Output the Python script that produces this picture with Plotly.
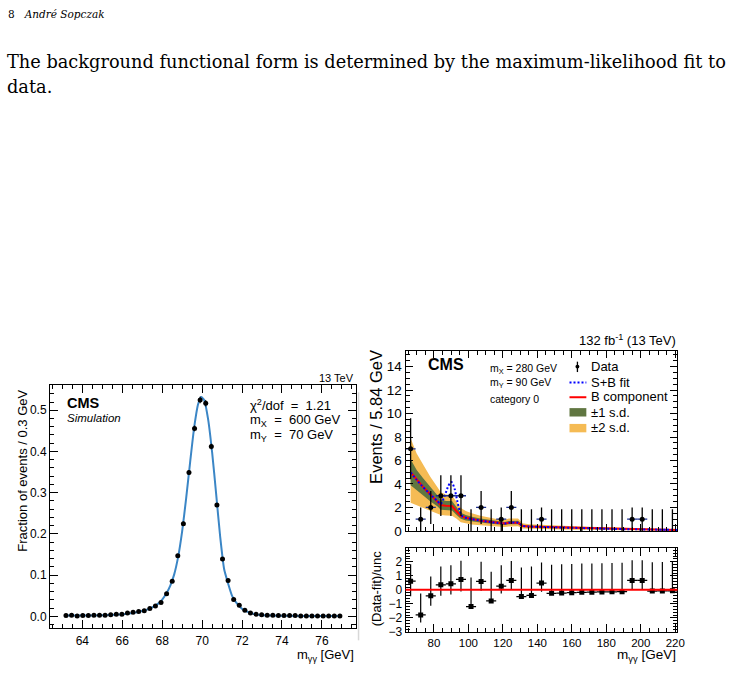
import plotly.graph_objects as go

W, H = 732, 676
def fx(p): return p / W
def fy(p): return 1 - p / H

# ---------------- Left panel: simulated signal shape ----------------
sim_x = [63.18, 63.46, 63.74, 64.02, 64.30, 64.58, 64.86, 65.14, 65.42, 65.70,
         65.98, 66.26, 66.54, 66.82, 67.10, 67.38, 67.66, 67.94, 68.22, 68.50,
         68.78, 69.06, 69.34, 69.62, 69.90, 70.18, 70.46, 70.74, 71.02, 71.30,
         71.58, 71.86, 72.14, 72.42, 72.70, 72.98, 73.26, 73.54, 73.82, 74.10,
         74.38, 74.66, 74.94, 75.22, 75.50, 75.78, 76.06, 76.34, 76.62, 76.90]
sim_y = [0.002, 0.003, 0.001, 0.002, 0.002, 0.003, 0.003, 0.003, 0.004, 0.005,
         0.005, 0.008, 0.010, 0.012, 0.014, 0.019, 0.025, 0.034, 0.055, 0.085,
         0.147, 0.225, 0.349, 0.456, 0.525, 0.517, 0.412, 0.270, 0.139, 0.087,
         0.041, 0.027, 0.015, 0.008, 0.005, 0.004, 0.003, 0.003, 0.002, 0.002,
         0.002, 0.002, 0.001, 0.001, 0.001, 0.001, 0.001, 0.001, 0.001, 0.001]
sim_err = [0.001, 0.001, 0.001, 0.001, 0.001, 0.001, 0.001, 0.001, 0.001, 0.001,
           0.001, 0.001, 0.001, 0.001, 0.001, 0.002, 0.002, 0.002, 0.003, 0.003,
           0.004, 0.005, 0.006, 0.007, 0.008, 0.008, 0.007, 0.005, 0.004, 0.003,
           0.002, 0.002, 0.001, 0.001, 0.001, 0.001, 0.001, 0.001, 0.001, 0.001,
           0.001, 0.001, 0.001, 0.001, 0.001, 0.001, 0.001, 0.001, 0.001, 0.001]
fit_x = [63.1, 64.0, 65.0, 66.0, 66.5, 67.0, 67.5, 67.8, 68.0, 68.2, 68.4, 68.6,
         68.8, 69.0, 69.2, 69.4, 69.6, 69.8, 69.95, 70.1, 70.3, 70.5, 70.7, 70.9,
         71.1, 71.3, 71.5, 71.7, 71.9, 72.1, 72.4, 72.8, 73.5, 75.0, 77.0]
fit_y = [0.002, 0.002, 0.003, 0.005, 0.008, 0.013, 0.022, 0.031, 0.041, 0.055,
         0.074, 0.102, 0.145, 0.207, 0.287, 0.375, 0.458, 0.515, 0.532, 0.525,
         0.478, 0.398, 0.298, 0.195, 0.115, 0.080, 0.050, 0.034, 0.023, 0.015,
         0.009, 0.004, 0.002, 0.001, 0.001]

# ---------------- Right panel: data fit ----------------
bin_x = [66.50, 72.34, 78.18, 84.02, 89.86, 95.70, 101.54, 107.38, 113.22, 119.06,
         124.90, 130.74, 136.58, 142.42, 148.26, 154.10, 159.94, 165.78, 171.62,
         177.46, 183.30, 189.14, 194.98, 200.82, 206.66, 212.50, 218.34]
counts = [7, 1, 2, 3, 3, 3, 0, 2, 0, 1, 2, 0, 0, 1, 0, 0, 0, 0, 0, 0, 0, 0, 1, 1, 0, 0, 0]
cnt_up = [2.6, 1.0, 1.4, 1.75, 1.75, 1.75, 1.84, 1.4, 1.84, 1.0, 1.4, 1.84, 1.84, 1.0,
          1.84, 1.84, 1.84, 1.84, 1.84, 1.84, 1.84, 1.84, 1.0, 1.0, 1.84, 1.84, 1.84]
cnt_dn = [2.6, 1.0, 1.4, 1.73, 1.73, 1.73, 0, 1.4, 0, 1.0, 1.4, 0, 0, 1.0,
          0, 0, 0, 0, 0, 0, 0, 0, 1.0, 1.0, 0, 0, 0]
half_bin = 2.92

bkg_x = [66.5, 70, 74, 78, 82, 84, 87, 90.5, 93, 95.6, 98.5, 102, 107, 112, 117, 121,
         123.5, 128.8, 131.5, 135, 145, 155, 165, 175, 185, 195, 205, 215, 221.26]
bkg_y = [5.0, 4.35, 3.7, 3.1, 2.55, 2.2, 2.15, 2.12, 1.7, 1.28, 1.12, 1.0, 0.88, 0.78,
         0.68, 0.63, 0.7, 0.7, 0.42, 0.38, 0.33, 0.29, 0.25, 0.21, 0.17, 0.14, 0.12, 0.1, 0.09]
sb_x = [66.5, 70, 74, 78, 82, 84, 86, 88, 89.5, 90.5, 92, 93.5, 95, 96.5, 98.5, 102, 107,
        112, 117, 121, 123.5, 128.8, 131.5, 135, 145, 155, 165, 175, 185, 195, 205, 215, 221.26]
sb_y = [5.0, 4.35, 3.7, 3.1, 2.55, 2.3, 2.9, 3.7, 4.15, 4.15, 3.6, 2.6, 1.7, 1.25, 1.12,
        1.0, 0.88, 0.78, 0.68, 0.63, 0.7, 0.7, 0.42, 0.38, 0.33, 0.29, 0.25, 0.21, 0.17,
        0.14, 0.12, 0.1, 0.09]
band_hi2 = [7.9, 6.6, 5.6, 4.6, 3.75, 3.3, 3.1, 3.05, 2.5, 1.95, 1.7, 1.5, 1.3, 1.15, 1.0,
            0.95, 1.05, 1.05, 0.65, 0.58, 0.5, 0.44, 0.38, 0.33, 0.27, 0.23, 0.2, 0.17, 0.16]
band_hi1 = [6.1, 5.2, 4.45, 3.7, 3.05, 2.7, 2.55, 2.55, 2.05, 1.55, 1.36, 1.2, 1.05, 0.93,
            0.82, 0.77, 0.85, 0.86, 0.52, 0.47, 0.4, 0.35, 0.3, 0.26, 0.21, 0.18, 0.15, 0.13, 0.12]
band_lo1 = [3.9, 3.5, 3.0, 2.5, 2.1, 1.8, 1.76, 1.74, 1.38, 1.03, 0.9, 0.8, 0.71, 0.63,
            0.54, 0.5, 0.56, 0.57, 0.33, 0.3, 0.26, 0.23, 0.2, 0.16, 0.13, 0.1, 0.09, 0.07, 0.06]
band_lo2 = [2.4, 2.2, 1.95, 1.75, 1.5, 1.35, 1.32, 1.3, 1.05, 0.75, 0.65, 0.55, 0.48, 0.42,
            0.36, 0.33, 0.38, 0.4, 0.2, 0.18, 0.15, 0.13, 0.11, 0.09, 0.07, 0.05, 0.04, 0.03, 0.02]

res_y = [0.62, -1.79, -0.43, 0.36, 0.43, 0.74, -1.19, 0.60, -0.79, 0.26, 0.67, -0.48, -0.40,
         0.48, -0.25, -0.23, -0.20, -0.18, -0.17, -0.15, -0.14, -0.13, 0.67, 0.67, -0.09, -0.08, -0.07]
res_top = [1.83, -0.26, 0.95, 1.67, 1.76, 2.07, 0.88, 2.0, 1.29, 1.76, 2.05, 1.6, 1.67,
           1.95, 1.79, 1.83, 1.85, 1.87, 1.88, 1.9, 1.92, 1.93, 2.1, 2.1, 1.97, 1.98, 1.99]
res_bot = [-0.45, -2.33, -1.14, -0.43, -0.33, -0.12, -1.19, -0.07, -0.79, -0.26, 0.0, -0.48,
           -0.40, -0.14, -0.25, -0.23, -0.20, -0.18, -0.17, -0.15, -0.14, -0.13, 0.0, 0.0,
           -0.09, -0.08, -0.07]

SANS = "Liberation Sans, Arial, Helvetica, sans-serif"
SERIF = "DejaVu Serif, Liberation Serif, serif"
GREEN = "#607641"
ORANGE = "#F5BB54"

fig = go.Figure()

# left
fig.add_trace(go.Scatter(x=fit_x, y=fit_y, mode="lines", line=dict(color="#3b86c6", width=2, shape="spline", smoothing=0.6),
                         xaxis="x", yaxis="y", hoverinfo="skip"))
fig.add_trace(go.Scatter(x=sim_x, y=sim_y, mode="markers", marker=dict(color="black", size=5),
                         error_y=dict(type="data", array=sim_err, color="black", thickness=1, width=0),
                         xaxis="x", yaxis="y"))

# right top bands
fig.add_trace(go.Scatter(x=bkg_x, y=band_lo2, mode="lines", line=dict(width=0), xaxis="x2", yaxis="y2", hoverinfo="skip"))
fig.add_trace(go.Scatter(x=bkg_x, y=band_hi2, mode="lines", line=dict(width=0), fill="tonexty", fillcolor=ORANGE,
                         xaxis="x2", yaxis="y2", hoverinfo="skip"))
fig.add_trace(go.Scatter(x=bkg_x, y=band_lo1, mode="lines", line=dict(width=0), xaxis="x2", yaxis="y2", hoverinfo="skip"))
fig.add_trace(go.Scatter(x=bkg_x, y=band_hi1, mode="lines", line=dict(width=0), fill="tonexty", fillcolor=GREEN,
                         xaxis="x2", yaxis="y2", hoverinfo="skip"))
fig.add_trace(go.Scatter(x=bkg_x, y=bkg_y, mode="lines", line=dict(color="#ff0000", width=2), xaxis="x2", yaxis="y2"))
fig.add_trace(go.Scatter(x=sb_x, y=sb_y, mode="lines",
                         line=dict(color="#0000ff", width=2, dash="2px,2px", shape="spline", smoothing=0.5),
                         xaxis="x2", yaxis="y2"))

nz = [i for i, c in enumerate(counts) if c > 0]
zz = [i for i, c in enumerate(counts) if c == 0]
fig.add_trace(go.Scatter(x=[bin_x[i] for i in zz], y=[0 for i in zz], mode="markers",
                         marker=dict(color="rgba(0,0,0,0)", size=1),
                         error_y=dict(type="data", symmetric=False, array=[cnt_up[i] for i in zz],
                                      arrayminus=[0 for i in zz], color="black", thickness=1.3, width=0),
                         xaxis="x2", yaxis="y2", cliponaxis=False))
fig.add_trace(go.Scatter(x=[bin_x[i] for i in nz], y=[counts[i] for i in nz], mode="markers",
                         marker=dict(color="black", size=5),
                         error_y=dict(type="data", symmetric=False, array=[cnt_up[i] for i in nz],
                                      arrayminus=[cnt_dn[i] for i in nz], color="black", thickness=1.3, width=0),
                         error_x=dict(type="constant", value=half_bin, color="#1c2f8f", thickness=1.3, width=0),
                         xaxis="x2", yaxis="y2"))

# right bottom residuals
fig.add_trace(go.Scatter(x=bin_x, y=res_y, mode="markers", marker=dict(color="black", size=5, symbol="square"),
                         error_y=dict(type="data", symmetric=False,
                                      array=[t - v for t, v in zip(res_top, res_y)],
                                      arrayminus=[v - b for v, b in zip(res_y, res_bot)],
                                      color="black", thickness=1.2, width=0),
                         error_x=dict(type="constant", value=half_bin, color="black", thickness=1.2, width=0),
                         xaxis="x3", yaxis="y3"))

def axis(size=12, **kw):
    d = dict(showline=True, linecolor="black", linewidth=1, mirror="allticks", ticks="inside",
             tickcolor="black", showgrid=False, zeroline=False,
             tickfont=dict(family=SANS, size=size, color="black"))
    d.update(kw)
    return d

def minor(dt):
    return dict(dtick=dt, ticklen=4, ticks="inside", tickcolor="black")

fig.update_layout(
    width=W, height=H, margin=dict(l=0, r=0, t=0, b=0), autosize=False,
    paper_bgcolor="white", plot_bgcolor="white", showlegend=False,
    font=dict(family=SANS, color="black"),
    xaxis=axis(12, domain=[fx(50.5), fx(359.3)], range=[62.38, 77.7], anchor="y", dtick=2, tick0=0,
               ticklen=8, minor=minor(0.5), ticklabelstandoff=1),
    yaxis=axis(12, domain=[fy(635.7), fy(389.3)], range=[-0.0285, 0.562], anchor="x", dtick=0.1, tick0=0,
               ticklen=8, tickformat=".1f", minor=minor(0.02)),
    xaxis2=axis(12, domain=[fx(409.5), fx(684)], range=[63.58, 221.26], anchor="y2", dtick=20, tick0=0,
                ticklen=7, showticklabels=False, minor=minor(5)),
    yaxis2=axis(13.5, domain=[fy(537.3), fy(355)], range=[0, 15.35], anchor="x2", dtick=2, tick0=0,
                ticklen=7, minor=minor(0.5)),
    xaxis3=axis(11.5, domain=[fx(409.5), fx(684)], range=[63.58, 221.26], anchor="y3", dtick=20, tick0=0,
                ticklen=8, minor=minor(5)),
    yaxis3=axis(12, domain=[fy(639.5), fy(554.3)], range=[-3, 3], anchor="x3", tickvals=[-3, -2, -1, 0, 1, 2],
                ticklen=7, minor=minor(0.2)),
)

shapes = [
    dict(type="line", xref="x3 domain", yref="y3", x0=0, x1=1, y0=0, y1=0, line=dict(color="#ff0000", width=2)),
    dict(type="line", xref="paper", yref="paper", x0=fx(362), x1=fx(362), y0=fy(397), y1=fy(648),
         line=dict(color="#d8d8d8", width=1.5)),
    dict(type="line", xref="paper", yref="paper", x0=fx(583), x1=fx(583), y0=fy(366), y1=fy(376.5), line=dict(color="black", width=1.3)),
    dict(type="circle", xref="paper", yref="paper", x0=fx(581), x1=fx(585), y0=fy(373), y1=fy(369), fillcolor="black", line=dict(color="black", width=0)),
    dict(type="line", xref="paper", yref="paper", x0=fx(575), x1=fx(592), y0=fy(387), y1=fy(387), line=dict(color="#0000ff", width=2, dash="2px,2px")),
    dict(type="line", xref="paper", yref="paper", x0=fx(575), x1=fx(592), y0=fy(402), y1=fy(402), line=dict(color="#ff0000", width=2)),
    dict(type="rect", xref="paper", yref="paper", x0=fx(575), x1=fx(592), y0=fy(421.5), y1=fy(413), fillcolor=GREEN, line=dict(width=0)),
    dict(type="rect", xref="paper", yref="paper", x0=fx(575), x1=fx(592), y0=fy(437.5), y1=fy(429), fillcolor=ORANGE, line=dict(width=0)),
]
fig.update_layout(shapes=shapes)

def ann(text, x, y, size, xanchor="left", yanchor="middle", family=SANS, angle=0):
    return dict(text=text, x=fx(x), y=fy(y), xref="paper", yref="paper", showarrow=False,
                xanchor=xanchor, yanchor=yanchor, textangle=angle,
                font=dict(family=family, size=size, color="black"))

anns = [
    ann("8&nbsp;&nbsp;&nbsp;<i>André Sopczak</i>", 6, 14, 10.5, family=SERIF),
    ann("The background functional form is determined by the maximum-likelihood fit to", 5, 63, 17.75, family=SERIF),
    ann("data.", 5, 88, 17.75, family=SERIF),
    # left panel
    ann("13 TeV", 359.5, 382.5, 11, xanchor="right"),
    ann("<b>CMS</b>", 66, 408, 14.5),
    ann("<i>Simulation</i>", 66, 422.5, 11.5),
    ann("χ<sup>2</sup>/dof  =  1.21", 250, 410, 13),
    ann("m<sub>X</sub>  =  600 GeV", 250, 425.5, 13),
    ann("m<sub>Y</sub>  =  70 GeV", 250, 441, 13),
    ann("Fraction of events / 0.3 GeV", 22.5, 476, 13, xanchor="center", angle=-90),
    ann("m<sub>γγ</sub> [GeV]", 359.5, 663.5, 13, xanchor="right"),
    # right panel
    ann("132 fb<sup>-1</sup> (13 TeV)", 684.5, 344.5, 13, xanchor="right"),
    ann("<b>CMS</b>", 430, 369, 16),
    ann("m<sub>X</sub> = 280 GeV", 492.5, 373, 10.5),
    ann("m<sub>Y</sub> = 90 GeV", 492.5, 388, 10.5),
    ann("category 0", 492.5, 403.5, 10.5),
    ann("Data", 595, 371, 13),
    ann("S+B fit", 595, 387, 13),
    ann("B component", 595, 401.5, 13),
    ann("±1 s.d.", 595, 417, 13),
    ann("±2 s.d.", 595, 433, 13),
    ann("Events / 5.84 GeV", 379.5, 422, 16.5, xanchor="center", angle=-90),
    ann("(Data-fit)/unc", 381, 595, 13, xanchor="center", angle=-90),
    ann("m<sub>γγ</sub> [GeV]", 684.5, 663.5, 13.5, xanchor="right"),
]
fig.update_layout(annotations=anns)

fig.write_html("out.html")
